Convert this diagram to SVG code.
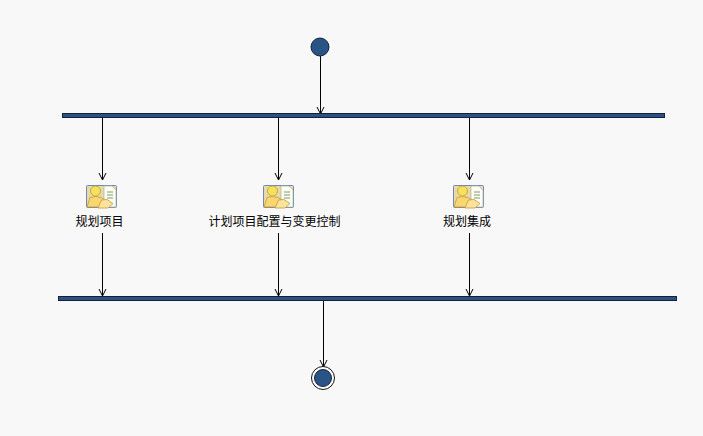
<svg xmlns="http://www.w3.org/2000/svg" width="703" height="436" viewBox="0 0 703 436">
<style>
.bar{fill:#2c5282;stroke:#14213d;stroke-width:1}
.dot{fill:#2a5485;stroke:#14233f;stroke-width:1}
.edge{fill:none;stroke:#000;stroke-width:1}
.label{font-family:"Noto Sans CJK SC","Noto Sans CJK JP",sans-serif;font-size:12px;fill:#000;text-anchor:middle}
</style>
<defs>
<g id="actor">
<rect x="0.5" y="0.5" width="30" height="22" rx="1" fill="#e9d9a8" stroke="#6f88b5"/>
<path d="M18 1 h8 l4 4 v17 h-12z" fill="#fdfdf4" stroke="#a9b5a0" stroke-width=".7"/>
<path d="M21 7h6M21 10h6M21 13h6" stroke="#7f9a6a" stroke-width="1"/>
<circle cx="9.500" cy="6" r="5" fill="#f4e15e" stroke="#b79f2c" stroke-width=".8"/>
<path d="M1 22 L4 12.500 Q9 10.500 15 12.500 L19 15 L14 22z" fill="#fad673" stroke="#c49a3a" stroke-width=".8"/>
<path d="M12 23 L15.500 15 L21 14.500 L27 18.500 L22 23z" fill="#fbe39c" stroke="#c49a3a" stroke-width=".8"/>
</g>
</defs>
<rect width="703" height="436" fill="#f8f8f8"/>
<g id="connectors">
<path class="edge" d="M320.500 56V113"/>
<path class="edge" d="M102.500 118V180"/>
<path class="edge" d="M278.500 118V180"/>
<path class="edge" d="M469.500 118V180"/>
<path class="edge" d="M102.500 233V296"/>
<path class="edge" d="M278.500 233V296"/>
<path class="edge" d="M469.500 233V296"/>
<path class="edge" d="M323.500 301V367"/>
<path class="edge" d="M317 107L320.500 114L324 107"/>
<path class="edge" d="M99 173L102.500 180L106 173"/>
<path class="edge" d="M275 173L278.500 180L282 173"/>
<path class="edge" d="M466 173L469.500 180L473 173"/>
<path class="edge" d="M99 289L102.500 296L106 289"/>
<path class="edge" d="M275 289L278.500 296L282 289"/>
<path class="edge" d="M466 289L469.500 296L473 289"/>
<path class="edge" d="M320 360L323.500 367L327 360"/>
</g>
<g id="start"><circle class="dot" cx="320" cy="47" r="9"/></g>
<g id="fork"><rect class="bar" x="62.500" y="113.500" width="602" height="4"/></g>
<g id="join"><rect class="bar" x="58.500" y="296.500" width="618" height="4"/></g>
<g id="task1"><use href="#actor" x="86" y="185"/><text class="label" x="99.500" y="226">规划项目</text></g>
<g id="task2"><use href="#actor" x="263" y="185"/><text class="label" x="274.500" y="226">计划项目配置与变更控制</text></g>
<g id="task3"><use href="#actor" x="453" y="185"/><text class="label" x="467" y="226">规划集成</text></g>
<g id="end"><circle cx="323" cy="378" r="11.500" fill="#fff" stroke="#111"/><circle class="dot" cx="323" cy="378" r="8.500"/></g>
</svg>
